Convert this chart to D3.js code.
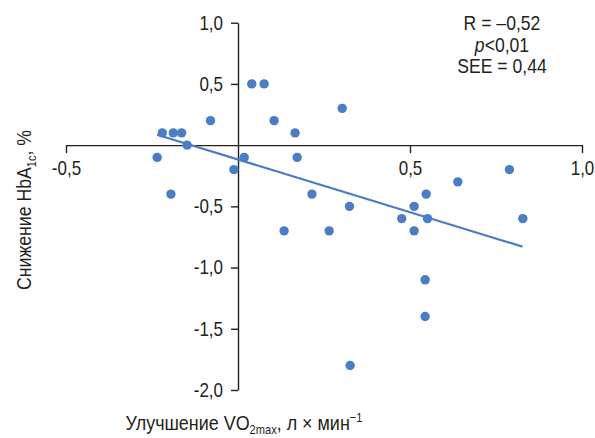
<!DOCTYPE html>
<html>
<head>
<meta charset="utf-8">
<script src="https://cdn.jsdelivr.net/npm/d3@7"></script>
<style>
  body { margin: 0; background: #fff; }
  svg { display: block; font-family: "Liberation Sans", Arial, sans-serif; }
</style>
</head>
<body>
<svg id="chart" width="595" height="438"></svg>
<script>
// VO2max improvement (x) vs HbA1c reduction (y)
const vo2 = [-0.22, -0.188, -0.164, -0.148, -0.235, -0.195, -0.08, 0.04, 0.076, 0.105,
             0.166, 0.172, 0.018, -0.012, 0.303, 0.789, 0.639, 0.547, 0.215, 0.324,
             0.512, 0.476, 0.551, 0.828, 0.265, 0.512, 0.544, 0.544, 0.326, 0.134]
const hba1c = [0.1, 0.1, 0.1, 0.0, -0.1, -0.4, 0.2, 0.5, 0.5, 0.2,
               0.1, -0.1, -0.1, -0.2, 0.3, -0.2, -0.3, -0.4, -0.4, -0.5,
               -0.5, -0.6, -0.6, -0.6, -0.7, -0.7, -1.1, -1.4, -1.8, -0.7]
// fitted line, drawn over the x range of the data
const fitX = [-0.235, 0.827]
const fitY = [0.085, -0.829]
const xTicks = [-0.5, 0.5, 1.0]
const yTicks = [1.0, 0.5, -0.5, -1.0, -1.5, -2.0]
const statsLines = ["R = –0,52", "p<0,01", "SEE = 0,44"]

const blue = "#4b7dc4"
const ink = "#231f20"
const narrow = 0.85   // the original uses a condensed face, squeeze Liberation Sans to match

const svg = d3.select("#chart")
const x = d3.scaleLinear().domain([-0.5, 1.0]).range([66, 582])
const y = d3.scaleLinear().domain([-2.0, 1.0]).range([390, 22.7])
const fmt = v => v.toFixed(1).replace(".", ",")

// squeeze a text horizontally around its anchor x
function condense(sel, sx) {
  sel.each(function() {
    const t = d3.select(this)
    const ax = +t.attr("x") || 0
    t.attr("transform", `translate(${ax},0) scale(${sx},1) translate(${-ax},0)`)
  })
}

// axes cross at the origin
svg.append("g")
  .attr("transform", `translate(0,${y(0)})`)
  .call(d3.axisBottom(x).tickValues(xTicks).tickFormat(fmt).tickSize(8).tickSizeOuter(0).tickPadding(8))
svg.append("g")
  .attr("transform", `translate(${x(0)},0)`)
  .call(d3.axisLeft(y).tickValues(yTicks).tickFormat(fmt).tickSize(7).tickSizeOuter(0).tickPadding(8))

svg.selectAll(".domain, .tick line").attr("stroke", ink).attr("stroke-width", 1.4)
svg.selectAll(".tick text")
  .attr("fill", ink)
  .style("font-size", "20px")
  .style("font-family", "inherit")
  .call(condense, narrow)

// regression line
svg.append("line")
  .attr("x1", x(fitX[0])).attr("y1", y(fitY[0]))
  .attr("x2", x(fitX[1])).attr("y2", y(fitY[1]))
  .attr("stroke", blue)
  .attr("stroke-width", 2.2)

// points
svg.append("g")
  .selectAll("circle")
  .data(vo2.map((v, i) => [v, hba1c[i]]))
  .join("circle")
  .attr("cx", d => x(d[0]))
  .attr("cy", d => y(d[1]))
  .attr("r", 4.7)
  .attr("fill", blue)

// stats, top right
const stats = svg.append("text")
  .attr("x", 502)
  .attr("y", 30)
  .attr("text-anchor", "middle")
  .attr("fill", ink)
  .style("font-size", "20px")
statsLines.forEach((s, i) => {
  const t = stats.append("tspan").attr("x", 502).attr("y", 30 + i * 21.6)
  if (s.startsWith("p")) {
    t.append("tspan").style("font-style", "italic").text("p")
    t.append("tspan").text(s.slice(1))
  } else {
    t.text(s)
  }
})
stats.call(condense, 0.88)

// y axis title
const yTitle = svg.append("text")
  .attr("text-anchor", "middle")
  .attr("fill", ink)
  .style("font-size", "21px")
yTitle.append("tspan").text("Снижение HbA")
yTitle.append("tspan").attr("dy", 5).style("font-size", "13px").text("1c")
yTitle.append("tspan").attr("dy", -5).text(",  %")
const yw = yTitle.node().getBBox().width
yTitle.attr("transform", `translate(31,210) rotate(-90) scale(${160 / yw},1)`)

// x axis title
const xTitle = svg.append("text")
  .attr("x", 244)
  .attr("y", 430)
  .attr("text-anchor", "middle")
  .attr("fill", ink)
  .style("font-size", "21px")
xTitle.append("tspan").text("Улучшение VO")
xTitle.append("tspan").attr("dy", 4).style("font-size", "13px").text("2max")
xTitle.append("tspan").attr("dy", -4).text(", л × мин")
xTitle.append("tspan").attr("dy", -8).style("font-size", "13px").text("−1")
const xw = xTitle.node().getBBox().width
xTitle.call(condense, 237 / xw)
</script>
</body>
</html>
